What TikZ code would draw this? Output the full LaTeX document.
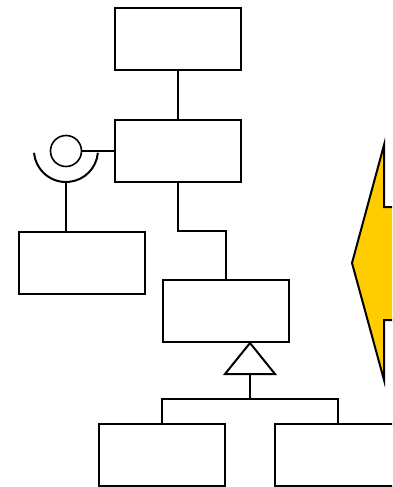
\documentclass[tikz,border=0pt]{standalone}
\usetikzlibrary{calc}
\definecolor{arrowyellow}{RGB}{255,204,0}
\tikzset{
  classbox/.style={draw=black, line width=2pt, rectangle, inner sep=0pt,
                   minimum width=126pt, minimum height=62pt},
  link/.style={draw=black, line width=2pt},
  ball/.style={draw=black, line width=1.6pt, circle, inner sep=0pt, minimum size=31pt},
}
\begin{document}
\begin{tikzpicture}[x=1pt,y=-1pt]
  \useasboundingbox (0,0) rectangle (392,487);
  \clip (0,0) rectangle (392,487);

  % class boxes
  \node[classbox] (A) at (178,39) {};
  \node[classbox] (B) at (178,151) {};
  \node[classbox] (C) at (82,263) {};
  \node[classbox] (D) at (226,311) {};
  \node[classbox] (E) at (162,455) {};
  \node[classbox] (F) at (338,455) {};

  % provided / required interface
  \node[ball] (ball) at (66,151) {};
  \draw[link] (ball) -- (B.west);
  \draw[link] (34.1,152.8) arc[start angle=175, end angle=5, radius=32];
  \coordinate (sock) at (66,182);
  \draw[link] (sock) -- (sock |- C.north);

  % associations
  \draw[link] (A.south) -- (B.north);
  \draw[link] (B.south) -- (B.south |- C.north) -| (D.north);

  % generalization
  \coordinate (apex) at ($(D.south)+(24,0)$);
  \draw[link, line join=miter] (apex) -- ++(25,31) -- ++(-50,0) -- cycle;
  \coordinate (tricentre) at ($(apex)+(0,31)$);
  \draw[link] (tricentre) -- ++(0,25) coordinate (bus);
  \draw[link] (E.north) |- (bus) -| (F.north);

  % block arrow pointing left
  \draw[line width=2pt, fill=arrowyellow, line join=miter]
    (352,263) -- (384,145) -- (384,207) -- (420,207) -- (420,320)
    -- (384,320) -- (384,380) -- cycle;
\end{tikzpicture}
\end{document}
